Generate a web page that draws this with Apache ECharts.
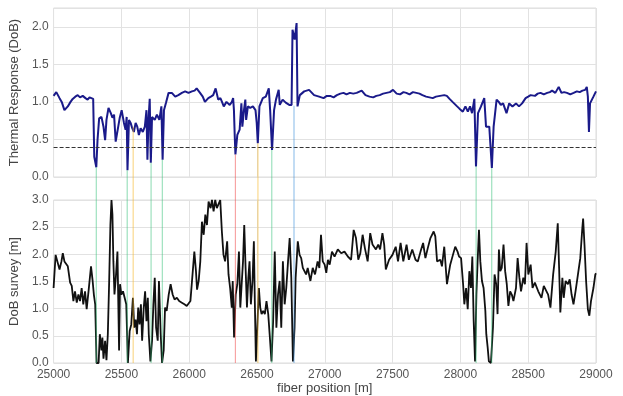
<!DOCTYPE html>
<html>
<head>
<meta charset="utf-8">
<script src="https://cdn.jsdelivr.net/npm/echarts@6/dist/echarts.min.js"></script>
<style>
  html, body { margin: 0; padding: 0; background: #fff; }
  #chart { width: 623px; height: 396px; }
</style>
</head>
<body>
<div id="chart"></div>
<script>
// thermal response along the fibre (upper panel)
const thermalPos = [25000,25020,25044,25060,25080,25105,25125,25141,25160,25178,25195,25215,25235,25251,25265,25276,25292,25300,25315,25324,25336,25353,25368,25380,25390,25405,25422,25434,25446,25458,25470,25488,25502,25519,25531,25539,25545,25556,25568,25580,25592,25605,25617,25629,25642,25658,25673,25685,25692,25700,25709,25717,25726,25746,25762,25780,25795,25804,25814,25829,25848,25872,25897,25920,25946,25970,25995,26020,26040,26055,26080,26100,26116,26141,26160,26177,26195,26214,26230,26242,26255,26275,26299,26315,26324,26330,26336,26341,26355,26372,26385,26392,26404,26414,26420,26433,26450,26470,26489,26498,26506,26518,26543,26565,26587,26597,26611,26626,26640,26660,26668,26689,26712,26738,26755,26762,26778,26792,26799,26816,26848,26884,26921,26958,26991,27015,27040,27065,27089,27115,27138,27160,27185,27210,27235,27272,27300,27330,27357,27380,27405,27430,27455,27480,27503,27530,27555,27580,27601,27625,27650,27675,27698,27720,27747,27772,27796,27820,27850,27881,27900,27920,27942,27970,27993,28018,28037,28055,28071,28086,28103,28115,28130,28152,28176,28189,28200,28213,28232,28245,28267,28283,28298,28315,28340,28360,28384,28410,28432,28455,28481,28500,28518,28550,28570,28591,28615,28640,28660,28676,28700,28725,28745,28765,28786,28810,28835,28859,28880,28900,28920,28932,28940,28948,28956,28981,29000];
const thermalVal = [1.08,1.13,1.05,1.00,0.89,0.94,1.00,1.04,1.07,1.09,1.06,1.08,1.05,1.03,1.06,1.05,1.04,0.27,0.13,0.49,0.78,0.80,0.67,0.49,0.76,0.92,0.85,0.79,0.83,0.47,0.49,0.79,0.89,0.72,0.63,0.80,0.09,0.76,0.72,0.65,0.60,0.72,0.67,0.56,0.65,0.60,0.67,0.89,0.23,0.76,1.04,0.19,0.80,0.76,0.83,0.76,0.94,0.23,0.89,0.99,1.12,1.12,1.07,1.09,1.12,1.14,1.12,1.14,1.15,1.18,1.12,1.07,1.00,1.05,1.07,1.09,1.18,1.03,1.05,1.00,0.94,1.00,0.96,1.00,1.05,0.89,0.54,0.30,0.56,0.63,0.98,0.67,0.89,1.03,0.76,0.94,0.92,0.94,0.89,0.72,0.45,0.94,1.05,1.07,1.18,0.89,0.36,0.89,1.03,1.16,0.96,1.03,0.99,0.96,0.96,1.96,1.83,2.05,0.94,1.09,1.14,1.16,1.09,1.07,1.05,1.08,1.08,1.06,1.09,1.11,1.12,1.10,1.12,1.11,1.12,1.15,1.09,1.07,1.06,1.08,1.09,1.11,1.12,1.13,1.16,1.11,1.10,1.13,1.12,1.10,1.13,1.12,1.11,1.09,1.07,1.06,1.05,1.07,1.08,1.09,1.08,1.04,1.00,0.95,0.91,0.87,0.94,0.87,0.94,0.85,1.04,0.14,0.85,0.94,1.05,0.67,0.65,0.67,0.12,0.67,1.03,1.00,0.96,0.98,0.85,0.98,0.94,0.98,0.94,0.98,1.05,1.07,1.09,1.08,1.11,1.12,1.10,1.12,1.13,1.15,1.12,1.20,1.12,1.13,1.12,1.10,1.12,1.14,1.13,1.15,1.16,1.20,1.07,0.60,0.98,1.07,1.14];

// DoB survey (lower panel)
const surveyPos = [25000,25015,25029,25044,25058,25068,25080,25093,25105,25122,25134,25146,25158,25171,25183,25195,25207,25219,25232,25244,25259,25276,25288,25297,25307,25317,25332,25341,25353,25360,25368,25380,25390,25400,25410,25419,25427,25434,25441,25449,25459,25471,25483,25490,25500,25512,25524,25536,25548,25561,25573,25585,25595,25605,25615,25624,25634,25644,25653,25665,25675,25685,25695,25702,25714,25726,25736,25746,25756,25768,25777,25790,25800,25812,25822,25834,25849,25863,25878,25892,25909,25926,25946,25965,25982,26009,26021,26038,26050,26058,26070,26082,26094,26107,26119,26131,26143,26158,26168,26180,26192,26204,26229,26241,26253,26265,26280,26290,26302,26314,26321,26331,26343,26355,26367,26377,26387,26397,26406,26416,26426,26436,26445,26455,26467,26477,26484,26492,26501,26514,26524,26534,26546,26558,26570,26583,26595,26607,26619,26631,26643,26655,26667,26679,26691,26704,26716,26729,26741,26753,26765,26777,26785,26801,26814,26826,26838,26850,26862,26874,26894,26911,26928,26947,26960,26972,26985,26999,27011,27023,27036,27053,27072,27096,27121,27145,27170,27194,27213,27230,27247,27262,27279,27296,27316,27335,27352,27377,27394,27408,27425,27438,27450,27474,27499,27523,27540,27559,27579,27603,27620,27645,27669,27686,27706,27725,27742,27759,27779,27803,27815,27828,27852,27864,27881,27901,27925,27945,27962,27979,27990,28005,28020,28029,28042,28054,28066,28078,28088,28098,28108,28118,28127,28137,28147,28159,28171,28184,28191,28201,28210,28225,28240,28252,28264,28274,28284,28294,28305,28318,28330,28342,28354,28367,28379,28391,28410,28422,28435,28447,28464,28476,28488,28501,28518,28532,28549,28574,28598,28615,28635,28647,28664,28684,28703,28718,28728,28737,28752,28762,28776,28793,28806,28820,28834,28849,28867,28884,28899,28905,28915,28927,28940,28951,28963,28981,28995,29000];
const surveyVal = [1.38,1.99,2.02,1.72,1.87,2.02,1.87,1.87,1.78,1.48,1.42,1.14,1.32,1.11,1.26,1.14,1.38,1.08,1.32,0.99,1.35,1.78,1.51,1.26,1.08,0.00,0.00,0.53,0.23,0.47,0.08,0.41,0.05,0.53,1.51,2.54,3.00,2.73,1.87,1.26,1.57,2.05,0.23,1.45,1.26,1.32,1.20,1.08,0.00,0.59,0.71,1.20,0.65,0.80,0.53,1.02,0.71,1.08,0.41,1.02,1.32,0.77,1.20,0.53,0.03,0.41,1.08,1.57,0.65,0.41,1.51,0.53,0.00,0.23,1.02,0.96,1.26,1.45,1.26,1.17,1.20,1.14,1.11,1.08,1.05,1.14,1.14,2.05,1.69,1.35,1.51,1.87,2.60,2.36,2.73,2.54,2.97,2.85,3.00,2.79,3.00,2.85,3.00,2.42,1.99,1.87,2.24,1.63,1.38,1.02,1.51,0.47,1.26,1.45,2.05,1.02,1.45,1.87,2.54,1.75,1.02,1.57,1.87,1.08,1.51,2.24,1.14,0.03,0.03,1.38,1.02,0.90,0.96,0.90,1.14,0.90,0.47,0.03,0.77,2.05,0.65,1.26,1.51,0.65,1.87,1.08,1.38,1.87,2.30,1.57,0.03,0.65,1.57,2.24,1.99,1.93,1.75,1.69,1.63,1.75,1.51,1.75,1.63,1.87,1.75,2.36,1.87,1.81,1.66,1.90,1.81,2.05,1.96,2.09,2.02,2.05,1.96,1.90,2.45,2.30,1.90,2.02,2.36,2.11,1.87,2.39,2.18,2.09,2.18,2.09,2.39,2.18,1.72,1.90,1.99,2.14,1.87,2.21,1.87,2.18,1.90,2.09,1.90,1.87,2.05,2.21,1.93,2.11,2.30,2.42,2.33,1.87,1.90,1.78,2.14,1.45,1.81,1.99,2.14,2.05,1.96,1.93,1.45,1.08,1.38,0.99,1.69,1.38,1.96,0.77,0.03,1.26,1.87,2.45,1.87,1.51,1.38,0.96,0.53,0.29,0.03,0.00,0.65,1.63,1.45,0.90,2.09,1.69,1.75,2.18,1.69,1.45,1.05,1.32,1.26,1.14,1.38,1.93,1.57,1.32,1.57,1.45,2.21,1.63,1.81,1.38,1.48,1.32,1.20,1.42,1.32,1.26,1.02,1.63,2.05,2.57,1.75,0.93,1.57,1.20,1.51,1.45,1.54,1.26,1.08,1.32,1.63,1.93,2.48,2.66,2.18,1.51,0.99,0.87,1.14,1.38,1.63,1.65];

// marked low points: position, thermal value at the dip, kind
const dipPos = [25315, 25543, 25587, 25719, 25802, 26341, 26507, 26609, 26773, 28116, 28231];
const dipVal = [0.13, 0.09, 0.67, 0.19, 0.23, 0.30, 0.45, 0.36, 0.95, 0.14, 0.12];
const dipKind = ['g', 'g', 'y', 'g', 'g', 'r', 'y', 'g', 'b', 'g', 'g'];
const threshold = 0.4;

const xTicks = [25000, 25500, 26000, 26500, 27000, 27500, 28000, 28500, 29000];

const kindColors = {
    g: 'rgba(60, 195, 125, 0.5)',
    y: 'rgba(245, 185, 50, 0.55)',
    r: 'rgba(240, 90, 90, 0.55)',
    b: 'rgba(70, 150, 220, 0.55)'
};

const chart = echarts.init(document.getElementById('chart'), null, { renderer: 'canvas' });

const gridLine = { show: true, lineStyle: { color: '#e2e2e2', width: 1 } };
const labelStyle = { color: '#555', fontSize: 12, fontFamily: 'Liberation Sans, Arial, sans-serif' };
const nameStyle = { color: '#444', fontSize: 13, fontFamily: 'Liberation Sans, Arial, sans-serif' };

function xAxisFor(gridIndex, showLabels) {
    return {
        type: 'value',
        gridIndex: gridIndex,
        min: xTicks[0],
        max: xTicks[xTicks.length - 1],
        interval: 500,
        axisLine: { show: false },
        axisTick: { show: false },
        splitLine: gridLine,
        axisLabel: Object.assign({ show: showLabels, margin: 6, formatter: v => String(v) }, labelStyle),
        name: showLabels ? 'fiber position [m]' : '',
        nameLocation: 'middle',
        nameGap: 19,
        nameTextStyle: nameStyle
    };
}

function yAxisFor(gridIndex, max, name) {
    return {
        type: 'value',
        gridIndex: gridIndex,
        min: 0,
        max: max,
        interval: 0.5,
        axisLine: { show: false },
        axisTick: { show: false },
        splitLine: gridLine,
        axisLabel: Object.assign({
            margin: 5,
            showMaxLabel: max % 0.5 === 0,
            formatter: v => v.toFixed(1)
        }, labelStyle),
        name: name,
        nameLocation: 'middle',
        nameRotate: 90,
        nameGap: 23,
        nameTextStyle: nameStyle
    };
}

const option = {
    animation: false,
    backgroundColor: '#fff',
    grid: [
        { left: 49, top: 8, width: 547, height: 169, show: true, borderColor: '#dcdcdc', borderWidth: 1 },
        { left: 49, top: 200, width: 547, height: 164, show: true, borderColor: '#dcdcdc', borderWidth: 1 }
    ],
    xAxis: [xAxisFor(0, false), xAxisFor(1, true)],
    yAxis: [
        yAxisFor(0, 2.25, 'Thermal Response (DoB)'),
        yAxisFor(1, 3, 'DoB survey [m]')
    ],
    series: [
        {
            name: 'thermal',
            type: 'line',
            xAxisIndex: 0,
            yAxisIndex: 0,
            showSymbol: false,
            data: thermalPos.map((p, i) => [p, thermalVal[i]]),
            lineStyle: { color: '#1a1a8a', width: 2 },
            markLine: {
                silent: true,
                symbol: 'none',
                label: { show: false },
                lineStyle: { color: '#333', type: [4, 2], width: 1 },
                data: [{ yAxis: threshold }]
            }
        },
        {
            name: 'survey',
            type: 'line',
            xAxisIndex: 1,
            yAxisIndex: 1,
            showSymbol: false,
            data: surveyPos.map((p, i) => [p, surveyVal[i]]),
            lineStyle: { color: '#111', width: 1.8 }
        }
    ]
};

chart.setOption(option);

// colored verticals: from the dip in the upper panel down through the lower panel
const verticals = dipPos.map((p, i) => {
    const top = chart.convertToPixel({ gridIndex: 0 }, [p, dipVal[i]]);
    const bottom = chart.convertToPixel({ gridIndex: 1 }, [p, 0]);
    return {
        type: 'line',
        z: 10,
        silent: true,
        shape: { x1: top[0], y1: top[1], x2: bottom[0], y2: bottom[1] },
        style: { stroke: kindColors[dipKind[i]], lineWidth: 1.2 }
    };
});
chart.setOption({ graphic: verticals });
</script>
</body>
</html>
